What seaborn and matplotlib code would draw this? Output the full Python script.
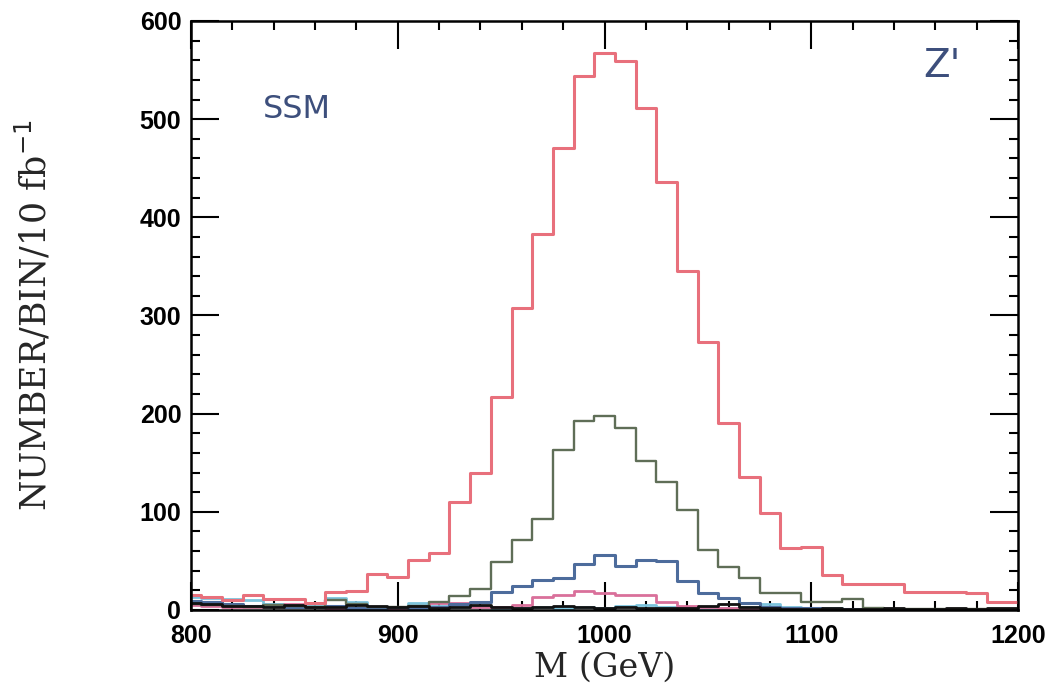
import numpy as np
import pandas as pd
import matplotlib
matplotlib.use('Agg')
import matplotlib.pyplot as plt
from matplotlib.ticker import MultipleLocator
import seaborn as sns

# bin centres (GeV), 10 GeV bins
mass = list(range(800, 1201, 10))

red = [15, 13, 10, 15, 11, 11, 7, 18, 19, 37, 34, 51, 58, 110, 140, 217, 308, 383, 471, 544,
       567, 559, 511, 436, 345, 273, 190, 135, 99, 63, 64, 36, 26, 26, 26, 18, 18, 18, 17, 8, 8]
green = [6, 5, 4, 3, 5, 4, 3, 10, 6, 3, 3, 4, 8, 14, 21, 49, 71, 93, 163, 193,
         198, 185, 152, 130, 102, 61, 44, 33, 17, 17, 8, 8, 11, 2, 1, 1, 1, 1, 1, 1, 1]
blue = [9, 8, 6, 4, 5, 3, 3, 4, 2, 2, 3, 2, 3, 6, 8, 18, 24, 31, 33, 47,
        56, 45, 51, 50, 30, 17, 12, 7, 3, 2, 2, 1, 1, 0, 0, 0, 0, 0, 0, 0, 0]
pink = [5, 4, 3, 3, 4, 6, 3, 2, 2, 1, 2, 3, 7, 7, 3, 3, 5, 13, 15, 19,
        17, 15, 15, 8, 4, 3, 2, 2, 1, 1, 1, 1, 0, 0, 0, 0, 0, 0, 0, 0, 0]
cyan = [13, 12, 11, 10, 6, 4, 4, 12, 8, 3, 2, 7, 4, 3, 3, 2, 2, 3, 2, 3,
        2, 4, 5, 3, 2, 2, 2, 3, 6, 3, 2, 2, 1, 1, 1, 1, 1, 1, 1, 1, 1]
black = [7, 6, 4, 4, 3, 5, 3, 3, 5, 4, 3, 4, 2, 3, 5, 3, 2, 3, 4, 3,
         2, 3, 2, 2, 2, 4, 6, 3, 2, 1, 1, 2, 1, 1, 2, 1, 1, 2, 1, 2, 2]

series = [
    # name, values, colour, width
    ('cyan', cyan, '#7cc3dc', 2.0),
    ('pink', pink, '#d9709a', 2.0),
    ('blue', blue, '#4d6c9c', 2.2),
    ('green', green, '#5f6e57', 1.7),
    ('black', black, '#111111', 2.0),
    ('red', red, '#e8707c', 2.2),
]

edges = [795 + 10 * i for i in range(len(mass) + 1)]

sns.set_style('ticks')
fig = plt.figure(figsize=(10.48, 6.93), dpi=100)
ax = fig.add_axes([0.1823, 0.1198, 0.7891, 0.8499])

for name, vals, col, lw in series:
    df = pd.DataFrame({'M': mass, 'n': vals})
    sns.histplot(data=df, x='M', weights='n', bins=edges, element='step', fill=False,
                 color=col, linewidth=lw, ax=ax)

ax.set_xlim(800, 1200)
ax.set_ylim(0, 600)
ax.xaxis.set_major_locator(MultipleLocator(100))
ax.xaxis.set_minor_locator(MultipleLocator(20))
ax.yaxis.set_major_locator(MultipleLocator(100))
ax.yaxis.set_minor_locator(MultipleLocator(20))
ax.tick_params(which='both', direction='in', top=True, right=True, width=1.5, colors='black')
ax.tick_params(which='major', length=20)
ax.tick_params(axis='x', which='major', pad=10)
ax.tick_params(axis='y', which='major', pad=7)
ax.tick_params(which='minor', length=6.5)
for s in ax.spines.values():
    s.set_linewidth(1.8)
    s.set_color('black')

for lab in ax.get_xticklabels() + ax.get_yticklabels():
    lab.set_fontfamily('Liberation Sans')
    lab.set_fontweight('bold')
    lab.set_fontsize(18)

ax.set_xlabel('M (GeV)', fontfamily='DejaVu Serif', fontsize=24, va='top')
ax.xaxis.set_label_coords(0.5, -0.071)
ax.set_ylabel(r'NUMBER/BIN/10 fb$^{-1}$', fontfamily='DejaVu Serif', fontsize=25)
ax.yaxis.set_label_coords(-0.166, 0.50)

ax.text(0.087, 0.835, 'SSM', transform=ax.transAxes, fontsize=23, color='#3d4f7c',
        fontfamily='DejaVu Sans')
ax.text(0.885, 0.905, "Z'", transform=ax.transAxes, fontsize=28, color='#3d4f7c',
        fontfamily='DejaVu Sans')

fig.savefig('out.png', dpi=100)
